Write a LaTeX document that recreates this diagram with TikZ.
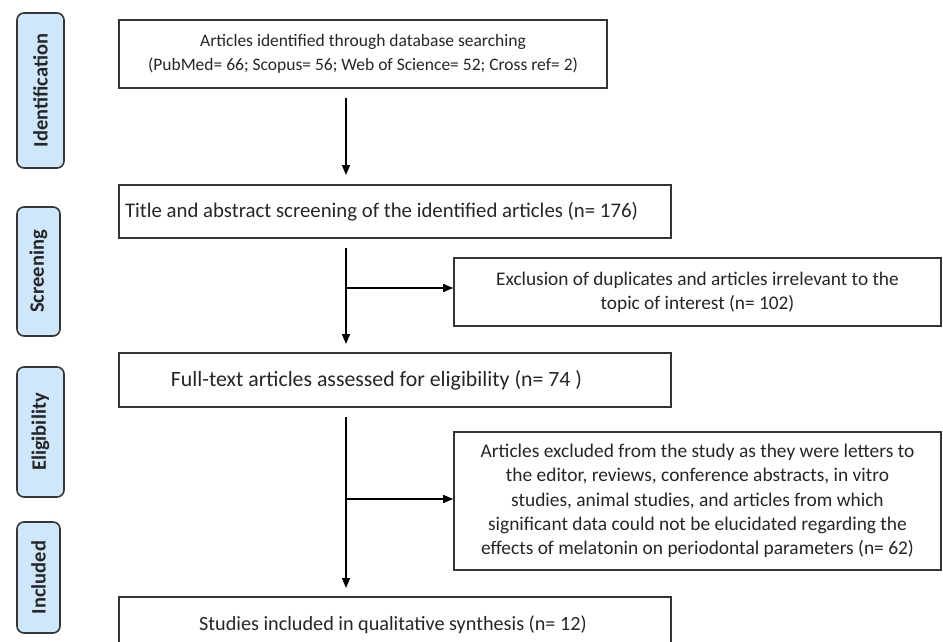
\documentclass[tikz,border=0pt]{standalone}
\usepackage{fontspec}
\setmainfont{Carlito}
\usetikzlibrary{arrows.meta}
\definecolor{lblfill}{HTML}{CFE7FB}
\definecolor{edge}{HTML}{353535}
\definecolor{ink}{HTML}{262626}
\begin{document}
\begin{tikzpicture}[x=1pt,y=-1pt,
  flowbox/.style={draw=edge,line width=1.6pt,fill=white,inner sep=0pt,align=center,text=ink},
  stagebox/.style={draw=edge,line width=1.6pt,fill=lblfill,rounded corners=7pt,inner sep=0pt,
    rotate=90,text=ink,font=\fontsize{20.5}{24}\selectfont\bfseries},
  flowarrow/.style={line width=1.4pt,-{Triangle[length=10pt,width=8pt]}},
  flowline/.style={line width=1.4pt}]
\useasboundingbox (0,0) rectangle (943,642);
\clip (0,0) rectangle (943,642);

% stage labels
\node[stagebox,minimum width=155pt,minimum height=47pt] (L1) at (40.5,90.5) {Identification};
\node[stagebox,minimum width=129pt,minimum height=43pt] (L2) at (38.5,271.5) {Screening};
\node[stagebox,minimum width=130pt,minimum height=47pt] (L3) at (40.5,432) {Eligibility};
\node[stagebox,minimum width=111pt,minimum height=43pt] (L4) at (38.5,577.5) {Included};

% main boxes
\node[flowbox,minimum width=488pt,minimum height=68pt,font=\fontsize{17.5}{24}\selectfont] (b1) at (363,54)
  {Articles identified through database searching\\(PubMed= 66; Scopus= 56; Web of Science= 52; Cross ref= 2)};
\node[flowbox,minimum width=552pt,minimum height=53pt,font=\fontsize{20.8}{24}\selectfont] (b2) at (395,211.5)
  {\hspace*{-27pt}Title and abstract screening of the identified articles (n= 176)};
\node[flowbox,minimum width=487pt,minimum height=68pt,font=\fontsize{19.3}{24}\selectfont] (b3) at (697.5,292)
  {Exclusion of duplicates and articles irrelevant to the\\topic of interest (n= 102)};
\node[flowbox,minimum width=552pt,minimum height=54pt,font=\fontsize{21.8}{24}\selectfont] (b4) at (395,380)
  {\hspace*{-37pt}Full-text articles assessed for eligibility (n= 74 )};
\node[flowbox,minimum width=487pt,minimum height=138pt,font=\fontsize{19.4}{24.4}\selectfont] (b5) at (697.5,501)
  {Articles excluded from the study as they were letters to\\
   the editor, reviews, conference abstracts, in vitro\\
   studies, animal studies, and articles from which\\
   significant data could not be elucidated regarding the\\
   effects of melatonin on periodontal parameters (n= 62)};
\node[flowbox,minimum width=552pt,minimum height=56pt,font=\fontsize{20.2}{24}\selectfont] (b6) at (395,625)
  {\raisebox{4pt}{\hspace*{-4pt}Studies included in qualitative synthesis (n= 12)}};

% connectors
\coordinate (s1) at (346,98);
\coordinate (s2) at (346,248);
\coordinate (s3) at (346,417);
\coordinate (j1) at (346,288);
\coordinate (j2) at (346,499);
\coordinate (e1) at (346,175);
\coordinate (e2) at (346,344);
\coordinate (e3) at (346,588);

\draw[flowarrow] (s1) -- (e1);
\draw[flowarrow] (s2) -- (e2);
\draw[flowarrow] (s3) -- (e3);
\draw[flowarrow] (j1) -- (j1 -| b3.west);
\draw[flowarrow] (j2) -- (j2 -| b5.west);
\end{tikzpicture}
\end{document}
